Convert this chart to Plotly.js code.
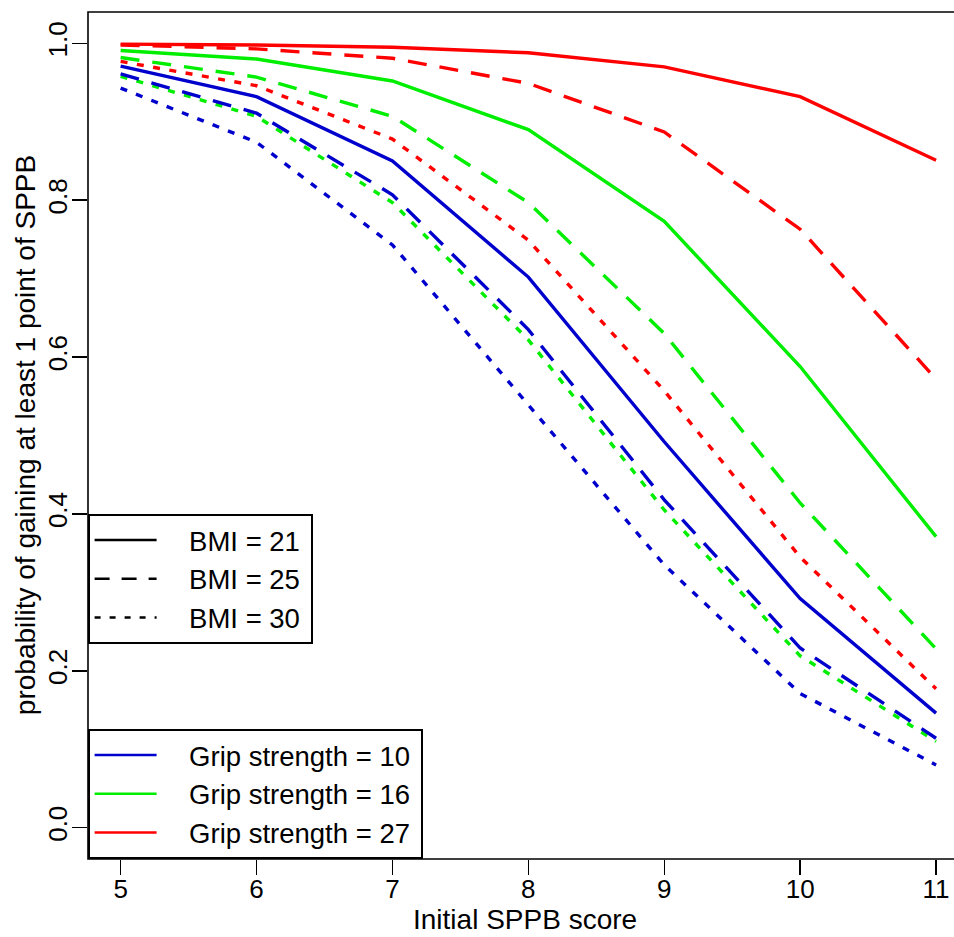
<!DOCTYPE html>
<html>
<head>
<meta charset="utf-8">
<script src="https://cdn.plot.ly/plotly-3.0.1.min.js"></script>
<style>
  html, body { margin: 0; padding: 0; background: #fff; }
  #chart { width: 954px; height: 937px; }
</style>
</head>
<body>
<div id="chart"></div>
<script>
// Initial SPPB score (x axis)
const sppbScores = [5, 6, 7, 8, 9, 10, 11];

// Probability of gaining at least 1 point of SPPB
// Grip strength = 10
const grip10_bmi21 = [0.971, 0.932, 0.850, 0.702, 0.492, 0.292, 0.146];
const grip10_bmi25 = [0.961, 0.911, 0.807, 0.635, 0.418, 0.229, 0.114];
const grip10_bmi30 = [0.943, 0.874, 0.743, 0.539, 0.335, 0.171, 0.080];
// Grip strength = 16
const grip16_bmi21 = [0.991, 0.980, 0.952, 0.890, 0.773, 0.588, 0.371];
const grip16_bmi25 = [0.982, 0.957, 0.907, 0.797, 0.630, 0.414, 0.228];
const grip16_bmi30 = [0.958, 0.907, 0.797, 0.622, 0.405, 0.219, 0.110];
// Grip strength = 27
const grip27_bmi21 = [0.999, 0.998, 0.995, 0.988, 0.970, 0.932, 0.851];
const grip27_bmi25 = [0.998, 0.993, 0.981, 0.949, 0.887, 0.763, 0.572];
const grip27_bmi30 = [0.977, 0.946, 0.878, 0.749, 0.557, 0.345, 0.177];

const yTickVals = [0, 0.2, 0.4, 0.6, 0.8, 1.0];
const yTickText = ['0.0', '0.2', '0.4', '0.6', '0.8', '1.0'];

const bmiLabels = ['BMI = 21', 'BMI = 25', 'BMI = 30'];
const gripLabels = ['Grip strength = 10', 'Grip strength = 16', 'Grip strength = 27'];

const colors = { g10: '#0000CD', g16: '#00EE00', g27: '#FF0000' };
const dashData = { solid: 'solid', dashed: '19px,13px', dotted: '7px,9.5px' };
const dashLegend = { solid: 'solid', dashed: '15px,12px', dotted: '6px,9px' };
const LW = 3.4;

function series(y, color, dash) {
  return {
    x: sppbScores, y: y, type: 'scatter', mode: 'lines',
    line: { color: color, width: LW, dash: dash },
    showlegend: false, hoverinfo: 'x+y'
  };
}

const traces = [
  series(grip27_bmi21, colors.g27, dashData.solid),
  series(grip27_bmi25, colors.g27, dashData.dashed),
  series(grip27_bmi30, colors.g27, dashData.dotted),
  series(grip16_bmi21, colors.g16, dashData.solid),
  series(grip16_bmi25, colors.g16, dashData.dashed),
  series(grip16_bmi30, colors.g16, dashData.dotted),
  series(grip10_bmi21, colors.g10, dashData.solid),
  series(grip10_bmi25, colors.g10, dashData.dashed),
  series(grip10_bmi30, colors.g10, dashData.dotted)
];

// Legend entries (no data of their own)
const PAD = '\u2002\u2002';
const TAIL = '\u2009';
const bmiDash = [dashLegend.solid, dashLegend.dashed, dashLegend.dotted];
bmiLabels.forEach((lab, i) => traces.push({
  x: [null], y: [null], type: 'scatter', mode: 'lines', name: PAD + lab + TAIL,
  line: { color: '#000000', width: 2.5, dash: bmiDash[i] },
  legend: 'legend', showlegend: true
}));
const gripCols = [colors.g10, colors.g16, colors.g27];
gripLabels.forEach((lab, i) => traces.push({
  x: [null], y: [null], type: 'scatter', mode: 'lines', name: PAD + lab + TAIL,
  line: { color: gripCols[i], width: 2.5 },
  legend: 'legend2', showlegend: true
}));

const FONT = 'Liberation Sans, Arial, Helvetica, sans-serif';

const layout = {
  width: 954, height: 937,
  margin: { l: 88, r: 0, t: 12, b: 78, pad: 0 },
  paper_bgcolor: '#ffffff', plot_bgcolor: '#ffffff',
  font: { family: FONT, size: 26, color: '#000000' },
  xaxis: {
    range: [4.76, 11.132], tickvals: sppbScores, ticktext: sppbScores.map(String),
    ticks: 'outside', ticklen: 15, tickwidth: 1.5, tickcolor: '#000',
    ticklabelstandoff: -8,
    showgrid: false, zeroline: false, showline: false,
    tickfont: { family: FONT, size: 26, color: '#000' }
  },
  yaxis: {
    range: [-0.04, 1.04], tickvals: yTickVals, ticktext: yTickText,
    ticks: 'outside', ticklen: 15, tickwidth: 1.5, tickcolor: '#000',
    tickangle: -90, ticklabelstandoff: -5,
    showgrid: false, zeroline: false, showline: false,
    tickfont: { family: FONT, size: 26, color: '#000' }
  },
  shapes: [{
    type: 'rect', xref: 'paper', yref: 'paper', x0: 0, x1: 1.05, y0: 0, y1: 1,
    line: { color: '#000', width: 1.6 }, fillcolor: 'rgba(0,0,0,0)', layer: 'above'
  }],
  legend: {
    x: 0, y: 0.4073, xanchor: 'left', yanchor: 'top',
    bgcolor: 'rgba(255,255,255,0)', bordercolor: '#000', borderwidth: 1.6,
    font: { family: FONT, size: 27.5, color: '#000' }, itemwidth: 62,
    traceorder: 'normal'
  },
  legend2: {
    x: 0, y: 0, xanchor: 'left', yanchor: 'bottom',
    bgcolor: 'rgba(255,255,255,0)', bordercolor: '#000', borderwidth: 1.6,
    font: { family: FONT, size: 27.5, color: '#000' }, itemwidth: 62,
    traceorder: 'normal'
  },
  annotations: [
    { text: 'Initial SPPB score', xref: 'paper', yref: 'paper', x: 0.505, y: -0.0909,
      xanchor: 'center', yanchor: 'bottom', showarrow: false, borderpad: 0,
      font: { family: FONT, size: 28, color: '#000' } },
    { text: 'probability of gaining at least 1 point of SPPB', xref: 'paper', yref: 'paper',
      x: -0.072, y: 0.5, xanchor: 'center', yanchor: 'middle', textangle: -90, showarrow: false,
      font: { family: FONT, size: 28, color: '#000' } }
  ]
};

Plotly.newPlot('chart', traces, layout, { displayModeBar: false, staticPlot: true });
</script>
</body>
</html>
